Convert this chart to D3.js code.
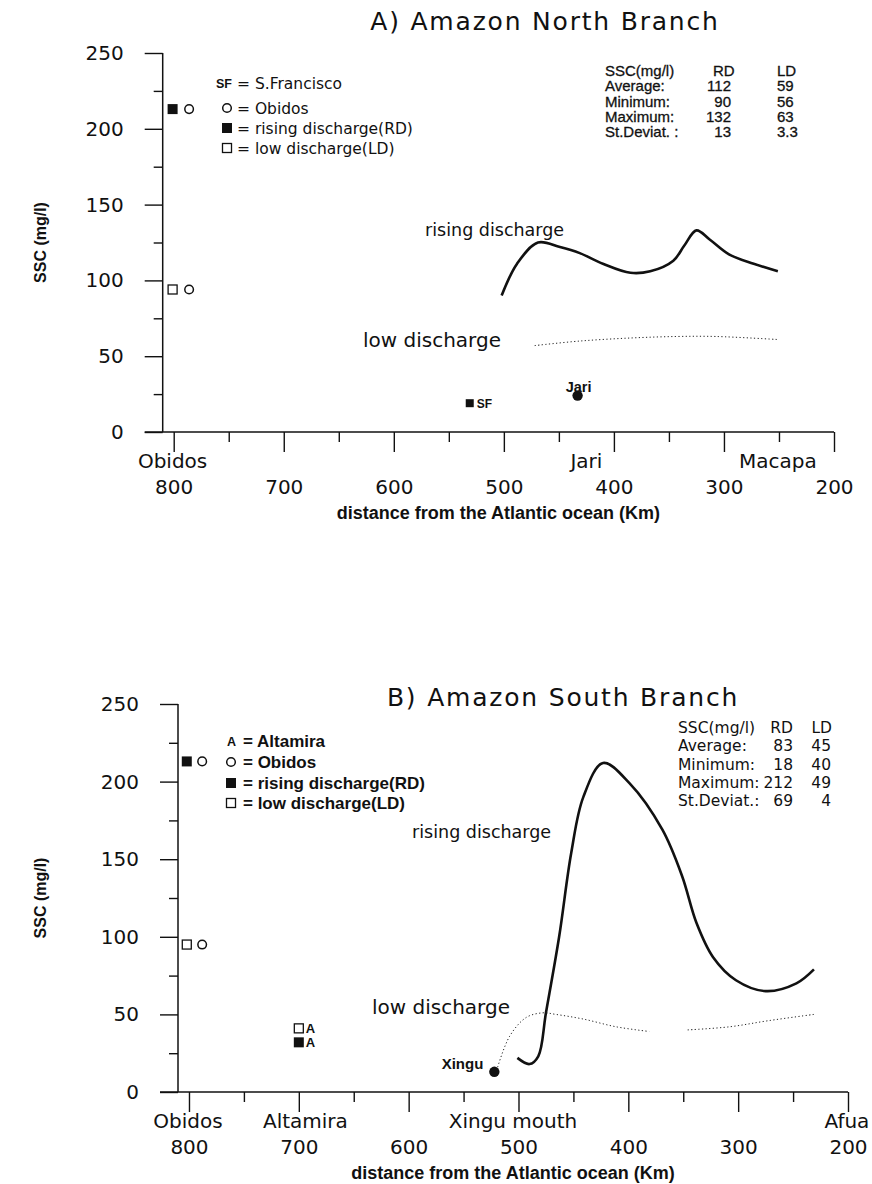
<!DOCTYPE html>
<html>
<head>
<meta charset="utf-8">
<script src="https://cdn.jsdelivr.net/npm/d3@7"></script>
<style>
body { margin: 0; background: #fff; }
svg { display: block; }
text { fill: #111; }
.g { font-family: "DejaVu Sans", sans-serif; }
.h { font-family: "Liberation Sans", Arial, sans-serif; }
.axis path { display: none; }
.axis line { stroke: #111; stroke-width: 1.4; }
</style>
</head>
<body>
<div id="chart"></div>
<script>
// ticks
var xTicks = [800, 700, 600, 500, 400, 300, 200]
var xMinor = [750, 650, 550, 450, 350, 250]
var yTicks = [0, 50, 100, 150, 200, 250]
var yMinor = [25, 75, 125, 175, 225]

// A) north branch, [km, ssc]
var northRising = [[502, 90], [488, 111], [469, 125], [449, 122], [431, 118], [410, 111], [385, 105],
  [367, 106], [346, 113], [336, 123], [325, 133], [313, 127], [295, 117], [273, 111], [251, 106]]
var northLow = [[472, 57], [431, 60], [385, 62], [343, 63], [307, 63], [251, 61]]
var northStations = [['Obidos', 801], ['Jari', 425], ['Macapa', 251]]
var northPoints = [[801, 213, 'filled'], [786, 213, 'circle'], [801, 94, 'open'], [786, 94, 'circle'],
  [531, 19, 'small'], [433, 24, 'dot']]
var northStatRows = ['SSC(mg/l)', 'Average:', 'Minimum:', 'Maximum:', 'St.Deviat. :']
var northRD = ['RD', '112', '90', '132', '13']
var northLD = ['LD', '59', '56', '63', '3.3']

// B) south branch
var southRising = [[501, 22], [490, 18], [482, 23], [475, 51], [463, 100], [452, 154], [441, 190],
  [423, 212], [399, 199], [369, 169], [351, 139], [338, 109], [323, 87], [302, 72], [275, 65],
  [247, 70], [231, 79]]
var southLow = [[519, 16], [508, 36], [493, 48], [478, 51], [466, 50], [441, 47], [411, 42],
  [381, 39], null, [346, 40], [308, 42], [272, 46], [231, 50]]
var southStations = [['Obidos', 801], ['Altamira', 694], ['Xingu mouth', 505], ['Afua', 201]]
var southPoints = [[802, 213, 'filled'], [788, 213, 'circle'], [802, 95, 'open'], [788, 95, 'circle'],
  [700, 41, 'open'], [700, 32, 'filled'], [522, 13, 'dot']]
var southStatRows = ['SSC(mg/l)', 'Average:', 'Minimum:', 'Maximum:', 'St.Deviat.:']
var southRD = ['RD', '83', '18', '212', '69']
var southLD = ['LD', '45', '40', '49', '4']

var svg = d3.select('#chart').append('svg').attr('width', 872).attr('height', 1184)

function panel(p) {
  var x = d3.scaleLinear().domain([810, 200]).range([p.left, p.right])
  var y = d3.scaleLinear().domain([0, 250]).range([p.bottom, p.top])
  var g = svg.append('g')

  // y axis
  g.append('g').attr('class', 'axis g').attr('transform', 'translate(' + p.left + ',0)')
    .call(d3.axisLeft(y).tickValues(yTicks).tickSize(18).tickPadding(21))
    .selectAll('text').attr('font-size', 20).attr('font-family', 'DejaVu Sans').attr('fill', '#111')
  g.append('g').attr('class', 'axis').attr('transform', 'translate(' + p.left + ',0)')
    .call(d3.axisLeft(y).tickValues(yMinor).tickSize(9).tickFormat(''))

  // x axis
  g.append('g').attr('class', 'axis').attr('transform', 'translate(0,' + p.bottom + ')')
    .call(d3.axisBottom(x).tickValues(xTicks).tickSize(20).tickPadding(28))
    .selectAll('text').attr('font-size', 20).attr('font-family', 'DejaVu Sans').attr('fill', '#111')
  g.append('g').attr('class', 'axis').attr('transform', 'translate(0,' + p.bottom + ')')
    .call(d3.axisBottom(x).tickValues(xMinor).tickSize(10).tickFormat(''))

  g.append('line').attr('x1', p.left).attr('x2', p.left).attr('y1', y(0)).attr('y2', y(250))
    .attr('stroke', '#111').attr('stroke-width', 1.5)
  g.append('line').attr('x1', p.left - 18).attr('x2', x(200)).attr('y1', y(0)).attr('y2', y(0))
    .attr('stroke', '#111').attr('stroke-width', 1.5)

  g.selectAll('.st').data(p.stations).join('text').attr('class', 'g')
    .attr('x', d => x(d[1])).attr('y', p.bottom + 36).attr('text-anchor', 'middle')
    .attr('font-size', 20).text(d => d[0])

  g.append('text').attr('class', 'h').attr('x', (p.left + p.right) / 2).attr('y', p.bottom + 87)
    .attr('text-anchor', 'middle').attr('font-size', 18).attr('font-weight', 'bold')
    .text('distance from the Atlantic  ocean (Km)')
  g.append('text').attr('class', 'h')
    .attr('transform', 'translate(46,' + (p.top + p.bottom) / 2 + ') rotate(-90)')
    .attr('text-anchor', 'middle').attr('font-size', 16).attr('font-weight', 'bold')
    .text('SSC (mg/l)')

  g.append('text').attr('class', 'g').attr('x', p.titleX).attr('y', p.titleY)
    .attr('text-anchor', 'middle').attr('font-size', 25).attr('letter-spacing', 1.8).text(p.title)

  // curves
  var line = d3.line().defined(d => d).x(d => x(d[0])).y(d => y(d[1])).curve(d3.curveCatmullRom)
  g.append('path').attr('d', line(p.rising)).attr('fill', 'none').attr('stroke', '#111')
    .attr('stroke-width', 2.6)
  g.append('path').attr('d', line(p.low)).attr('fill', 'none').attr('stroke', '#222')
    .attr('stroke-width', 1).attr('stroke-dasharray', '1.2,2.4')

  // points
  p.points.forEach(function(d) {
    var cx = x(d[0]), cy = y(d[1])
    if (d[2] == 'filled' || d[2] == 'small') {
      var s = d[2] == 'small' ? 8 : 10
      g.append('rect').attr('x', cx - s / 2).attr('y', cy - s / 2).attr('width', s).attr('height', s).attr('fill', '#111')
    } else if (d[2] == 'open') {
      g.append('rect').attr('x', cx - 4.5).attr('y', cy - 4.5).attr('width', 9).attr('height', 9)
        .attr('fill', '#fff').attr('stroke', '#111').attr('stroke-width', 1.3)
    } else if (d[2] == 'circle') {
      g.append('circle').attr('cx', cx).attr('cy', cy).attr('r', 4.3).attr('fill', 'none')
        .attr('stroke', '#111').attr('stroke-width', 1.5)
    } else {
      g.append('circle').attr('cx', cx).attr('cy', cy).attr('r', 5.2).attr('fill', '#111')
    }
  })

  // stats table
  p.statRows.forEach(function(r, i) {
    var ty = p.statY + i * p.statDy
    var t = g.append('g').attr('class', p.statFont).attr('font-size', p.statSize)
      .attr('stroke', '#111').attr('stroke-width', p.statStroke)
    t.append('text').attr('x', p.statX).attr('y', ty).text(r)
    t.append('text').attr('x', i ? p.rdX : p.rdHead).attr('y', ty)
      .attr('text-anchor', i ? 'end' : p.rdHeadAnchor).text(p.rd[i])
    t.append('text').attr('x', i ? p.ldX : p.ldHead).attr('y', ty)
      .attr('text-anchor', p.ldAnchor).text(p.ld[i])
  })

  // curve labels
  g.append('text').attr('class', 'g').attr('x', p.risingLabel[0]).attr('y', p.risingLabel[1])
    .attr('font-size', 17.5).text('rising discharge')
  g.append('text').attr('class', 'g').attr('x', p.lowLabel[0]).attr('y', p.lowLabel[1])
    .attr('font-size', 20).text('low discharge')
  return {x: x, y: y, g: g}
}

var a = panel({
  left: 162.7, right: 834, top: 53, bottom: 432, title: 'A) Amazon North Branch', titleX: 545, titleY: 30,
  rising: northRising, low: northLow, stations: northStations, points: northPoints,
  statRows: northStatRows, rd: northRD, ld: northLD, statFont: 'h', statSize: 15, statStroke: 0.3,
  statX: 605, statY: 76, statDy: 15.3, rdX: 731, rdHead: 713, rdHeadAnchor: 'start', ldX: 777, ldHead: 777, ldAnchor: 'start',
  risingLabel: [425, 236], lowLabel: [363, 347]
})
var b = panel({
  left: 178, right: 848, top: 704, bottom: 1092, title: 'B) Amazon South Branch', titleX: 563, titleY: 706,
  rising: southRising, low: southLow, stations: southStations, points: southPoints,
  statRows: southStatRows, rd: southRD, ld: southLD, statFont: 'g', statSize: 15.5, statStroke: 0,
  statX: 678, statY: 733, statDy: 18.3, rdX: 793, rdHead: 793, rdHeadAnchor: 'end', ldX: 831, ldHead: 832, ldAnchor: 'end',
  risingLabel: [412, 838], lowLabel: [372, 1014]
})

// point labels
a.g.append('text').attr('class', 'h').attr('x', a.x(531) + 7).attr('y', a.y(19) + 4.5)
  .attr('font-size', 12).attr('font-weight', 'bold').text('SF')
a.g.append('text').attr('class', 'h').attr('x', a.x(433) + 1).attr('y', a.y(24) - 4)
  .attr('text-anchor', 'middle').attr('font-size', 14.5).attr('font-weight', 'bold').text('Jari')
b.g.append('text').attr('class', 'h').attr('x', b.x(522) - 11).attr('y', b.y(13) - 3)
  .attr('text-anchor', 'end').attr('font-size', 15).attr('font-weight', 'bold').text('Xingu')
b.g.selectAll('.alt').data([41, 32]).join('text').attr('class', 'h')
  .attr('x', b.x(700) + 7).attr('y', d => b.y(d) + 5).attr('font-size', 13).attr('font-weight', 'bold').text('A')

// legends
var legendA = [['SF', '= S.Francisco', 83], ['circle', '= Obidos', 108], ['filled', '= rising discharge(RD)', 128], ['open', '= low discharge(LD)', 148]]
var legendB = [['A', '= Altamira', 741], ['circle', '= Obidos', 762], ['filled', '= rising discharge(RD)', 783], ['open', '= low discharge(LD)', 803]]

function legend(items, sx, tx, cls, size, weight) {
  items.forEach(function(d) {
    var ly = d[2]
    if (d[0] == 'circle') {
      svg.append('circle').attr('cx', sx).attr('cy', ly).attr('r', 4.3).attr('fill', 'none').attr('stroke', '#111').attr('stroke-width', 1.5)
    } else if (d[0] == 'filled') {
      svg.append('rect').attr('x', sx - 5).attr('y', ly - 5).attr('width', 10).attr('height', 10).attr('fill', '#111')
    } else if (d[0] == 'open') {
      svg.append('rect').attr('x', sx - 4.5).attr('y', ly - 4.5).attr('width', 9).attr('height', 9)
        .attr('fill', 'none').attr('stroke', '#111').attr('stroke-width', 1.3)
    } else {
      svg.append('text').attr('class', 'h').attr('x', sx + 5).attr('y', ly + 5).attr('text-anchor', 'end')
        .attr('font-size', 12.5).attr('font-weight', 'bold').text(d[0])
    }
    svg.append('text').attr('class', cls).attr('x', tx).attr('y', ly + size * 0.36)
      .attr('font-size', size).attr('font-weight', weight).text(d[1])
  })
}
legend(legendA, 227, 237, 'g', 15.5, 'normal')
legend(legendB, 231, 243, 'h', 17, 'bold')
</script>
</body>
</html>
